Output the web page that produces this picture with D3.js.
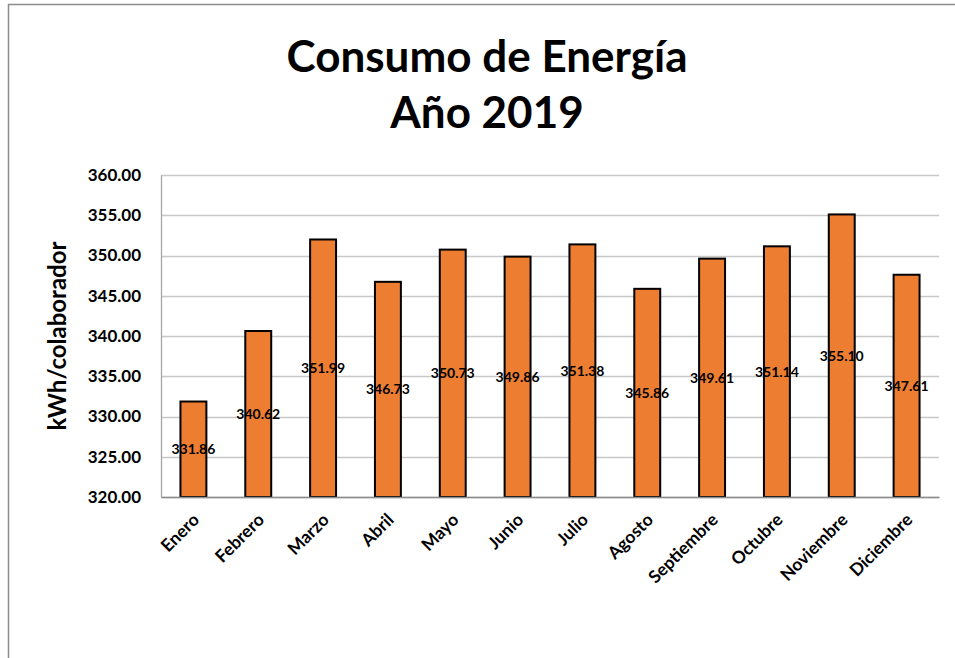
<!DOCTYPE html>
<html>
<head>
<meta charset="utf-8">
<script src="https://cdn.jsdelivr.net/npm/d3@7"></script>
<style>
  body { margin: 0; background: #fff; }
  text { font-family: Lato, "Open Sans", sans-serif; font-weight: bold; }
</style>
</head>
<body>
<div id="my_dataviz"></div>
<script>
// data
var months = ["Enero", "Febrero", "Marzo", "Abril", "Mayo", "Junio", "Julio",
              "Agosto", "Septiembre", "Octubre", "Noviembre", "Diciembre"];
var consumo = [331.86, 340.62, 351.99, 346.73, 350.73, 349.86, 351.38,
               345.86, 349.61, 351.14, 355.10, 347.61];
var yTicks = [320, 325, 330, 335, 340, 345, 350, 355, 360];
var titleLines = ["Consumo de Energía", "Año 2019"];

var W = 955, H = 658;
var margin = {top: 175, right: 16, bottom: 161, left: 161},
    width = W - margin.left - margin.right,
    height = H - margin.top - margin.bottom;

var root = d3.select("#my_dataviz")
  .append("svg")
    .attr("width", W)
    .attr("height", H);

// chart frame
root.append("rect")
    .attr("x", 8.5).attr("y", 4.5)
    .attr("width", W + 20).attr("height", H + 20)
    .style("fill", "none")
    .style("stroke", "#8c8c8c")
    .style("stroke-width", 1.5);

// title
root.append("text")
    .attr("text-anchor", "middle")
    .attr("x", 487).attr("y", 72)
    .style("font-size", "44px")
    .text(titleLines[0]);
root.append("text")
    .attr("text-anchor", "middle")
    .attr("x", 487).attr("y", 128)
    .style("font-size", "44px")
    .text(titleLines[1]);

var svg = root.append("g")
    .attr("transform", "translate(" + margin.left + "," + margin.top + ")");

var x = d3.scaleBand()
    .domain(months)
    .range([0, width])
    .paddingInner(0.6)
    .paddingOuter(0.3);

var y = d3.scaleLinear()
    .domain([320, 360])
    .range([height, 0]);

// gridlines
svg.append("g")
  .selectAll("line")
  .data(yTicks)
  .enter()
  .append("line")
    .attr("x1", 0).attr("x2", width)
    .attr("y1", function(d) { return Math.round(y(d)) + 0.5; })
    .attr("y2", function(d) { return Math.round(y(d)) + 0.5; })
    .style("stroke", "#c8c8c8")
    .style("stroke-width", 1.3);

// Y axis
var yAxis = svg.append("g")
    .call(d3.axisLeft(y).tickValues(yTicks).tickFormat(d3.format(".2f")).tickSize(0).tickPadding(20));
yAxis.select(".domain").style("stroke", "#a6a6a6").style("stroke-width", 1.3);
yAxis.selectAll("text").style("font-size", "17px").style("fill", "#000");

// bars
svg.append("g")
  .selectAll("rect")
  .data(consumo)
  .enter()
  .append("rect")
    .attr("x", function(d, i) { return x(months[i]); })
    .attr("y", function(d) { return y(d); })
    .attr("width", x.bandwidth())
    .attr("height", function(d) { return height - y(d); })
    .style("fill", "#ED7D31")
    .style("stroke", "#000")
    .style("stroke-width", 2);

// X axis
var xAxis = svg.append("g")
    .attr("transform", "translate(0," + height + ")")
    .call(d3.axisBottom(x).tickSize(0).tickPadding(0));
xAxis.select(".domain").style("stroke", "#8c8c8c").style("stroke-width", 1.5);
xAxis.selectAll("text")
    .style("font-size", "17.5px")
    .style("fill", "#000")
    .attr("text-anchor", "end")
    .attr("dy", 0)
    .attr("transform", "translate(7,24) rotate(-45)");

// value labels in the middle of each bar
svg.append("g")
  .selectAll("text")
  .data(consumo)
  .enter()
  .append("text")
    .attr("text-anchor", "middle")
    .attr("x", function(d, i) { return x(months[i]) + x.bandwidth() / 2; })
    .attr("y", function(d) { return (y(d) + height) / 2 + 5; })
    .style("font-size", "14px")
    .text(function(d) { return d.toFixed(2); });

// Y axis label
root.append("text")
    .attr("text-anchor", "middle")
    .attr("transform", "translate(66," + (margin.top + height / 2) + ") rotate(-90)")
    .style("font-size", "24px")
    .text("kWh/colaborador");
</script>
</body>
</html>
